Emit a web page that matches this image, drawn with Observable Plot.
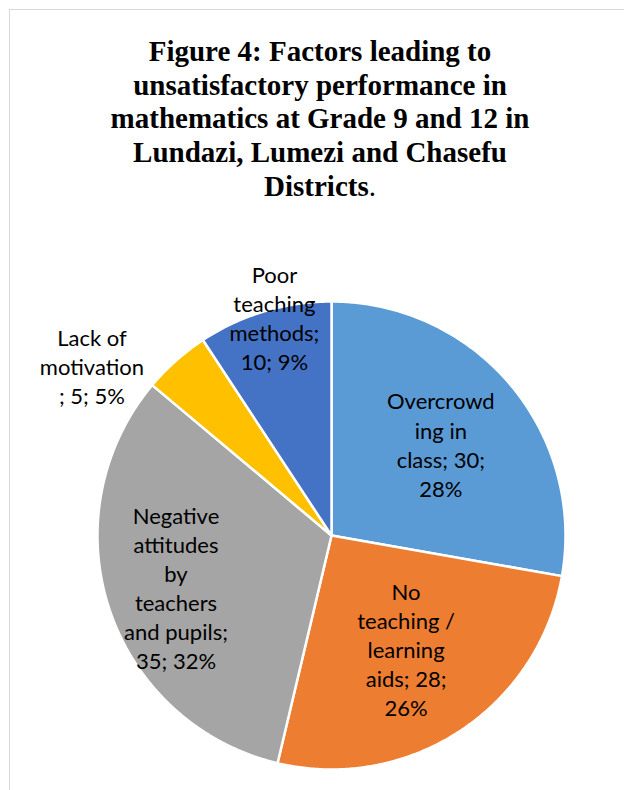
<!DOCTYPE html>
<html>
<head>
<meta charset="utf-8">
<script src="https://cdn.jsdelivr.net/npm/d3@7"></script>
<script src="https://cdn.jsdelivr.net/npm/@observablehq/plot@0.6"></script>
<style>
  html, body { margin: 0; padding: 0; background: #fff; width: 624px; height: 790px; overflow: hidden; }
  body { position: relative; }
  #frame { position: absolute; left: 9px; top: 9px; width: 700px; height: 900px; border: 1px solid #d9d9d9; box-sizing: border-box; }
  #title { position: absolute; left: 0; top: 35px; width: 640px; text-align: center;
    font-family: "Liberation Serif", "Times New Roman", serif; font-weight: bold; font-size: 29px; line-height: 33.7px; color: #000; }
  #title .n { font-weight: normal; }
  #chart { position: absolute; left: 0; top: 210px; }
</style>
</head>
<body>
<div id="frame"></div>
<div id="title">Figure 4: Factors leading to<br>unsatisfactory performance in<br>mathematics at Grade 9 and 12 in<br>Lundazi, Lumezi and Chasefu<br>Districts<span class="n">.</span></div>
<div id="chart"></div>
<script>
// ---- data ----
const categories = ["Overcrowding in class", "No teaching / learning aids", "Negative attitudes by teachers and pupils", "Lack of motivation", "Poor teaching methods"];
const values = [30, 28, 35, 5, 10];
const labelLines = [
  "Overcrowd\ning in\nclass; 30;\n28%",
  "No\nteaching /\nlearning\naids; 28;\n26%",
  "Negative\nattitudes\nby\nteachers\nand pupils;\n35; 32%",
  "Lack of\nmotivation\n; 5; 5%",
  "Poor\nteaching\nmethods;\n10; 9%"
];
// ---- style / layout ----
const colors = ["#5B9BD5", "#ED7D31", "#A5A5A5", "#FFC000", "#4472C4"];
const labelRadius = [0.61, 0.58, 0.70, 1.255, 0.963];
const labelAngleShift = [0, 0, 0, -13, 2];

const W = 624, H = 580, R = 234, CX = 331, CY = 325;

const total = d3.sum(values);
const slices = [];
const labels = [];
let acc = 0;
values.forEach((v, i) => {
  const a0 = acc / total * 2 * Math.PI;
  const a1 = (acc + v) / total * 2 * Math.PI;
  acc += v;
  slices.push({cat: categories[i], x: 0, y: 0});
  const n = Math.max(2, Math.ceil((a1 - a0) / (Math.PI / 360)));
  for (let k = 0; k <= n; k++) {
    const a = a0 + (a1 - a0) * k / n;
    slices.push({cat: categories[i], x: Math.sin(a), y: Math.cos(a)});
  }
  slices.push({cat: categories[i], x: 0, y: 0});
  const am = (a0 + a1) / 2 + labelAngleShift[i] * Math.PI / 180;
  labels.push({text: labelLines[i], x: labelRadius[i] * Math.sin(am), y: labelRadius[i] * Math.cos(am)});
});

const plot = Plot.plot({
  width: W,
  height: H,
  margin: 0,
  x: {domain: [-CX / R, (W - CX) / R], axis: null},
  y: {domain: [-(H - CY) / R, CY / R], axis: null},
  color: {type: "ordinal", domain: categories, range: colors},
  style: {background: "transparent", overflow: "visible"},
  marks: [
    Plot.line(slices, {x: "x", y: "y", z: "cat", fill: "cat", stroke: "white", strokeWidth: 2.5, strokeLinejoin: "round", curve: "linear"}),
    Plot.text(labels, {x: "x", y: "y", text: "text", fontSize: 22, lineHeight: 1.32, fill: "#000",
      textAnchor: "middle", lineAnchor: "middle", fontFamily: "Lato, 'Open Sans', sans-serif"})
  ]
});
document.getElementById("chart").appendChild(plot);
</script>
</body>
</html>
